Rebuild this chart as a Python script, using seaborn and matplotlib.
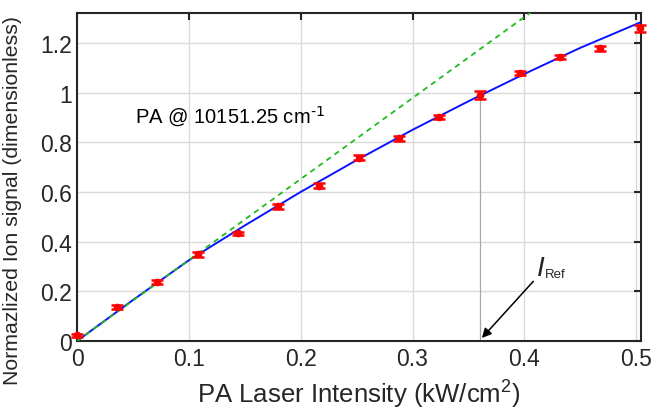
import numpy as np
import matplotlib
matplotlib.use("Agg")
import matplotlib.pyplot as plt
import seaborn as sns

intensity = [0.0, 0.0355, 0.0713, 0.108, 0.1437, 0.180, 0.2165, 0.2522,
             0.288, 0.3238, 0.3605, 0.3962, 0.432, 0.4678, 0.503]
ion_signal = [0.022, 0.136, 0.236, 0.349, 0.433, 0.543, 0.624, 0.737,
              0.817, 0.902, 0.989, 1.079, 1.144, 1.179, 1.258]
ion_err = [0.006, 0.008, 0.008, 0.009, 0.006, 0.010, 0.010, 0.010,
           0.010, 0.008, 0.016, 0.008, 0.008, 0.010, 0.015]

# saturation fit curve (blue) and linear extrapolation (green)
fit_x = [0.0, 0.05, 0.1, 0.15, 0.2, 0.25, 0.3, 0.35, 0.4, 0.45, 0.505]
fit_y = [0.0, 0.165, 0.325, 0.465, 0.6, 0.728, 0.85, 0.965, 1.075, 1.18, 1.285]
lin_x = [0.0, 0.5]
lin_y = [0.0, 1.63]

i_ref = 0.360
i_ref_signal = 0.989

sns.set_theme(style="white")
plt.rcParams['font.family'] = ['Liberation Sans', 'DejaVu Sans']

fig, ax = plt.subplots(figsize=(6.59, 4.14), dpi=100)
fig.subplots_adjust(left=0.117, right=0.973, bottom=0.174, top=0.966)

ax.grid(True, color="#dadada", linewidth=1.0)
ax.set_axisbelow(True)

sns.lineplot(x=fit_x, y=fit_y, ax=ax, color="#0a14ff", linewidth=1.4, zorder=3)
sns.lineplot(x=lin_x, y=lin_y, ax=ax, color="#1fbb1f", linestyle=(0, (3, 2.5)),
             linewidth=1.3, zorder=3.5)

ax.plot([i_ref, i_ref], [0, i_ref_signal], color="#a8a8a8", linewidth=0.9, zorder=1.5)

ax.errorbar(intensity, ion_signal, yerr=ion_err, fmt="o", color="#ff0000",
            markersize=4.5, capsize=4.3, elinewidth=1.5, capthick=1.8, zorder=4,
            clip_on=False)

ax.text(0.052, 0.905, r"PA @ 10151.25 cm$^{\text{-1}}$", fontsize=14.5,
        va="center", ha="left", color="black")

ax.annotate("", xy=(i_ref + 0.002, 0.012), xytext=(0.408, 0.24),
            arrowprops=dict(arrowstyle="-|>", color="black", lw=1.1,
                            mutation_scale=14, shrinkA=0, shrinkB=0))
ax.text(0.4115, 0.294, "I", fontsize=20, style="italic", ha="left", va="center")
ax.text(0.418, 0.268, "Ref", fontsize=9.5, ha="left", va="center")

ax.set_xlim(0, 0.5045)
ax.set_ylim(0, 1.32)
ax.set_xticks([0, 0.1, 0.2, 0.3, 0.4, 0.5])
ax.set_xticklabels(["0", "0.1", "0.2", "0.3", "0.4", "0.5"])
ax.set_yticks([0, 0.2, 0.4, 0.6, 0.8, 1.0, 1.2])
ax.set_yticklabels(["0", "0.2", "0.4", "0.6", "0.8", "1", "1.2"])

ax.tick_params(direction="in", length=5, width=1.5, top=True, right=True,
               labelsize=16.5, colors="#262626", pad=4)
for sp in ax.spines.values():
    sp.set_color("#262626")
    sp.set_linewidth(1.5)

ax.set_xlabel(r"PA Laser Intensity (kW/cm$^{\mathregular{2}}$)", fontsize=18.5, labelpad=5)
ax.set_ylabel("Normazlized Ion signal (dimensionless)", fontsize=15.3)
ax.yaxis.set_label_coords(-0.098, 0.43)

fig.savefig("out.png", dpi=100)
